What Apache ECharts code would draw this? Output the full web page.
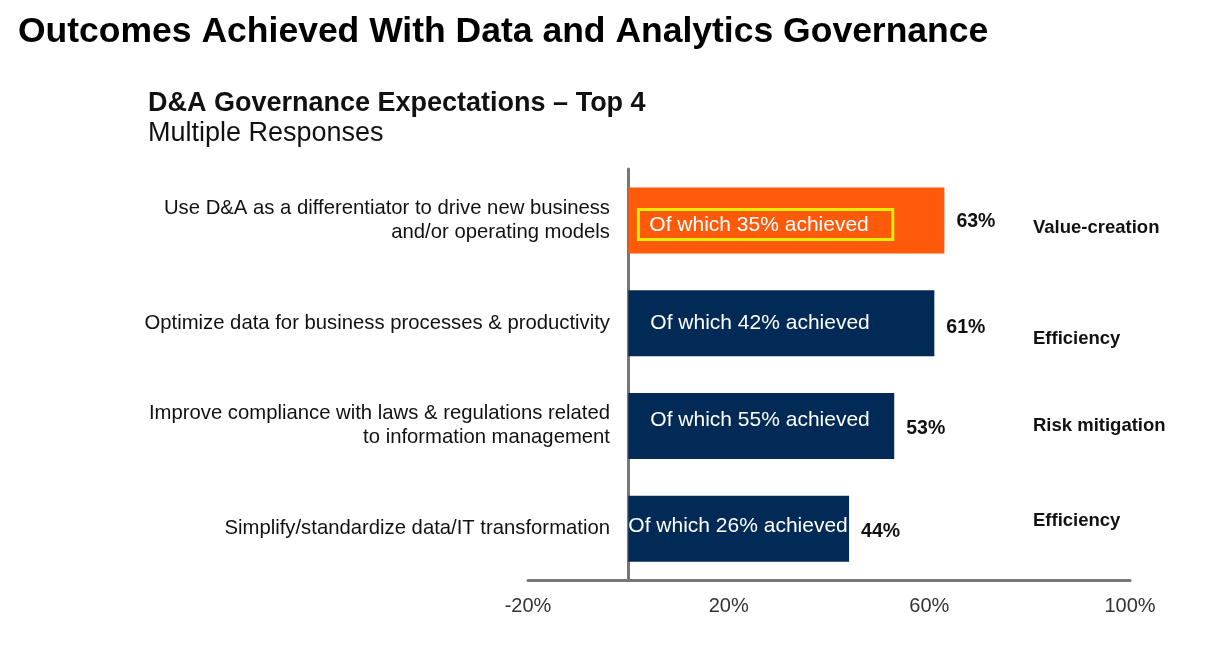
<!doctype html>
<html>
<head>
<meta charset="utf-8">
<style>
html, body { margin: 0; padding: 0; background: #fff; }
#main { width: 1213px; height: 646px; }
</style>
</head>
<body>
<div id="main"></div>
<script src="https://cdn.jsdelivr.net/npm/echarts@6/dist/echarts.min.js"></script>
<script>
var categories = [
    'Use D&A as a differentiator to drive new business\nand/or operating models',
    'Optimize data for business processes & productivity',
    'Improve compliance with laws & regulations related\nto information management',
    'Simplify/standardize data/IT transformation'
];
var expected = [63, 61, 53, 44];
var achieved = [35, 42, 55, 26];
var drivers = ['Value-creation', 'Efficiency', 'Risk mitigation', 'Efficiency'];

// placement tweaks to follow the original slide
var barColors = ['#ff5a0a', '#022a57', '#022a57', '#022a57'];
var insideDist = [10, 22, 22, 0];
var insideShift = [4, 0, -6, -2];
var valueShift = [1, 4, 3, 3];
var driverShift = [8, 16, 0, -8];

var font = 'Liberation Sans, Arial, sans-serif';
var chart = echarts.init(document.getElementById('main'));

var innerData = expected.map(function (v, i) {
    return {
        value: v,
        itemStyle: { color: barColors[i] },
        label: { distance: insideDist[i], offset: [0, insideShift[i]] }
    };
});
var outerData = expected.map(function (v, i) {
    return { value: v, label: { offset: [0, valueShift[i]] } };
});

chart.setOption({
    animation: false,
    textStyle: { fontFamily: font },
    title: [{
        text: 'Outcomes Achieved With Data and Analytics Governance',
        left: 13,
        top: 9,
        textStyle: { fontSize: 35.5, fontWeight: 'bold', color: '#000', fontFamily: font }
    }, {
        text: 'D&A Governance Expectations \u2013 Top 4',
        subtext: 'Multiple Responses',
        left: 143,
        top: 85,
        itemGap: 3,
        textStyle: { fontSize: 27, fontWeight: 'bold', color: '#111', fontFamily: font },
        subtextStyle: { fontSize: 27, color: '#111', fontFamily: font }
    }],
    grid: { left: 528, right: 83, top: 169, bottom: 66 },
    xAxis: {
        type: 'value',
        min: -20,
        max: 100,
        interval: 40,
        axisLine: { show: true, lineStyle: { color: '#777', width: 3 } },
        axisTick: { show: false },
        splitLine: { show: false },
        axisLabel: {
            formatter: '{value}%',
            margin: 16,
            fontSize: 20,
            color: '#333',
            fontFamily: font
        }
    },
    yAxis: {
        type: 'category',
        inverse: true,
        data: categories,
        axisLine: { show: true, onZero: true, lineStyle: { color: '#777', width: 3 } },
        axisTick: { show: false },
        axisLabel: {
            // labels sit beside the zero line, not the grid edge
            margin: -82,
            fontSize: 20.3,
            lineHeight: 24,
            color: '#111',
            align: 'right',
            fontFamily: font
        }
    },
    series: [{
        type: 'bar',
        barWidth: 66,
        z: 2,
        data: innerData,
        label: {
            show: true,
            position: 'insideLeft',
            fontSize: 21,
            color: '#fff',
            fontFamily: font,
            formatter: function (p) {
                var t = 'Of which ' + achieved[p.dataIndex] + '% achieved';
                return p.dataIndex === 0 ? '{box|' + t + '}' : t;
            },
            rich: {
                box: {
                    fontSize: 21,
                    color: '#fff',
                    fontFamily: font,
                    borderColor: '#e2ef00',
                    borderWidth: 3,
                    padding: [5, 24, 4, 11]
                }
            }
        }
    }, {
        type: 'bar',
        barWidth: 66,
        barGap: '-100%',
        z: 1,
        data: outerData,
        itemStyle: { color: 'rgba(0,0,0,0)' },
        label: {
            show: true,
            position: 'right',
            distance: 12,
            fontSize: 19.5,
            fontWeight: 'bold',
            color: '#111',
            fontFamily: font,
            formatter: '{c}%'
        }
    }]
});

// driver tags on the right, next to each bar
var tags = drivers.map(function (d, i) {
    var y = chart.convertToPixel({ yAxisIndex: 0 }, i);
    return {
        type: 'text',
        x: 1033,
        y: y + driverShift[i],
        style: {
            text: d,
            fontSize: 18.5,
            fontWeight: 'bold',
            fill: '#111',
            fontFamily: font,
            verticalAlign: 'middle'
        }
    };
});
chart.setOption({ graphic: tags });

window.onresize = chart.resize;
</script>
</body>
</html>
